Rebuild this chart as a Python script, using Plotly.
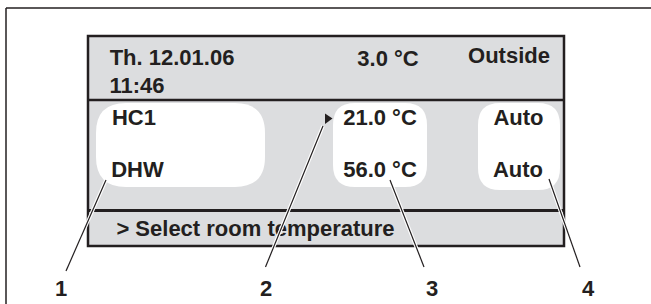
import plotly.graph_objects as go

# ---- content (text values) ----
header_left = ["Th. 12.01.06", "11:46"]
outside_temp = "3.0 °C"
outside_label = "Outside"
circuits = ["HC1", "DHW"]
setpoints = ["21.0 °C", "56.0 °C"]
modes = ["Auto", "Auto"]
status_line = "> Select room temperature"
callouts = ["1", "2", "3", "4"]

W, H = 651, 304
INK = "#231f20"
GRAY = "#dcdddf"
FONT = dict(family="Liberation Sans, Arial, sans-serif", size=22, color=INK, weight="bold")
DY = 2  # vertical text nudge

fig = go.Figure()

def add_text(xs, ys, texts):
    fig.add_trace(go.Scatter(x=xs, y=[v + DY for v in ys], text=texts, mode="text",
                             textposition="middle center", textfont=FONT,
                             hoverinfo="skip", showlegend=False))

# header
add_text([172, 137], [57.5, 85], header_left)
add_text([388], [58.5], [outside_temp])
add_text([509], [55.5], [outside_label])
# rows
row_y = [117.5, 169.5]
add_text([134, 137.5], row_y, circuits)
add_text([380, 380], row_y, setpoints)
add_text([518.5, 518], row_y, modes)
# status line
add_text([255.5], [228], [status_line])
# callout numbers
add_text([61, 266, 432, 588], [288.5] * 4, callouts)

shapes = []
# outer frame (left + top edges)
shapes.append(dict(type="line", x0=6, y0=8, x1=6, y1=H + 5, line=dict(color=INK, width=1.5), layer="below"))
shapes.append(dict(type="line", x0=6, y0=8, x1=W + 5, y1=8, line=dict(color=INK, width=1.5), layer="below"))
# display panel
shapes.append(dict(type="rect", x0=88, y0=36, x1=564, y1=246, fillcolor=GRAY,
                   line=dict(color=INK, width=2.5), layer="below"))


def rounded(x0, y0, x1, y1, r):
    return (f"M {x0+r},{y0} L {x1-r},{y0} Q {x1},{y0} {x1},{y0+r} "
            f"L {x1},{y1-r} Q {x1},{y1} {x1-r},{y1} L {x0+r},{y1} "
            f"Q {x0},{y1} {x0},{y1-r} L {x0},{y0+r} Q {x0},{y0} {x0+r},{y0} Z")

for (bx0, by0, bx1, by1, r) in [(96, 103, 265, 187, 30), (333, 103, 427, 187, 22), (478, 103, 560, 190, 22)]:
    shapes.append(dict(type="path", path=rounded(bx0, by0, bx1, by1, r), fillcolor="white",
                       line=dict(width=0), layer="below"))

# separators
shapes.append(dict(type="line", x0=88, y0=100, x1=564, y1=100, line=dict(color=INK, width=2.5), layer="below"))
shapes.append(dict(type="line", x0=88, y0=210.5, x1=564, y1=210.5, line=dict(color=INK, width=3), layer="below"))

# selection triangle
shapes.append(dict(type="path", path="M 325,113.5 L 332.5,118.5 L 325,124 Z", fillcolor=INK,
                   line=dict(width=0), layer="above"))

# leader lines (white halo + black line)
leaders = [(106, 180, 66, 271), (323, 126, 265.5, 267), (390, 180, 424, 267), (549, 179, 580, 267)]
for (lx0, ly0, lx1, ly1) in leaders:
    shapes.append(dict(type="line", x0=lx0, y0=ly0, x1=lx1, y1=ly1, line=dict(color="white", width=3.5), layer="above"))
for (lx0, ly0, lx1, ly1) in leaders:
    shapes.append(dict(type="line", x0=lx0, y0=ly0, x1=lx1, y1=ly1, line=dict(color=INK, width=1.2), layer="above"))

fig.update_layout(
    width=W, height=H, autosize=False,
    margin=dict(l=0, r=0, t=0, b=0, pad=0),
    paper_bgcolor="white", plot_bgcolor="white",
    xaxis=dict(range=[0, W], visible=False, fixedrange=True),
    yaxis=dict(range=[H, 0], visible=False, fixedrange=True),
    shapes=shapes, showlegend=False,
)

fig.write_html("out.html", config={"displayModeBar": False, "staticPlot": True},
               post_script="document.body.style.margin='0';document.body.style.overflow='hidden';")
